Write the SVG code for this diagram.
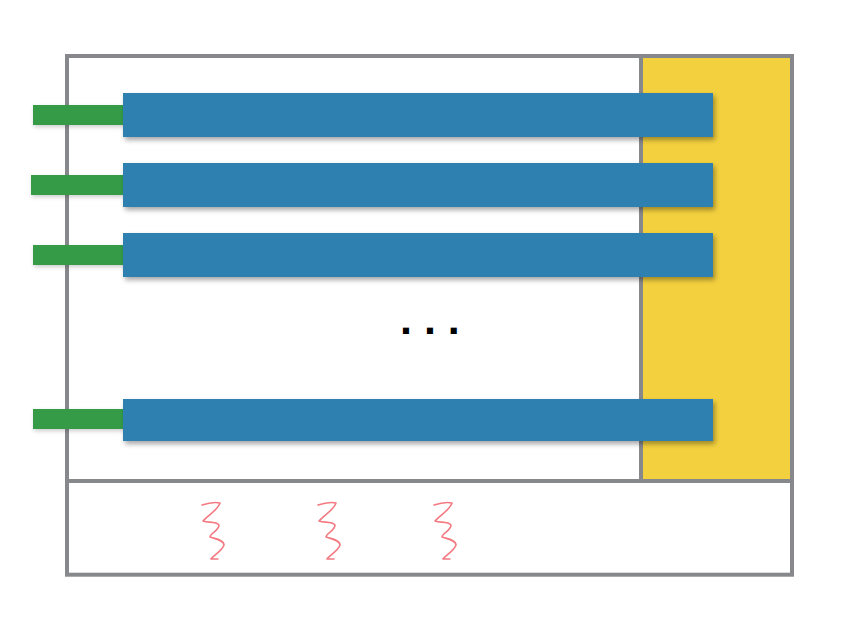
<svg xmlns="http://www.w3.org/2000/svg" width="858" height="638" viewBox="0 0 858 638">
  <defs>
    <filter id="shadow" x="-5%" y="-30%" width="110%" height="170%">
      <feDropShadow dx="2" dy="3" stdDeviation="2.5" flood-color="#000" flood-opacity="0.35"/>
    </filter>
    <filter id="shadowSmall" x="-10%" y="-40%" width="120%" height="200%">
      <feDropShadow dx="1" dy="2" stdDeviation="2" flood-color="#000" flood-opacity="0.2"/>
    </filter>
    <path id="squiggle" d="M202,505 C208,503 216,502 220,503 C218,510 208,515 203,521 C208,523 216,521 219,525 C219,531 210,533 210,537 C216,539 224,540 224,545 C222,551 214,555 211,559 L218,559"/>
  </defs>
  <style>
    .frame { fill: none; stroke: #86888c; stroke-width: 4; }
    .yellow { fill: #f3d03e; }
    .blue { fill: #2f80b0; filter: url(#shadow); }
    .green { fill: #369b47; filter: url(#shadowSmall); }
    .dots { font-family: "Liberation Sans", Arial, sans-serif; font-weight: bold; font-size: 43px; fill: #000; }
    .wave { fill: none; stroke: #f47a82; stroke-width: 1.6; stroke-linecap: round; stroke-linejoin: round; }
  </style>
  <rect width="858" height="638" fill="#ffffff"/>

  <g id="container">
    <rect class="yellow" x="641" y="56" width="151" height="425"/>
    <rect class="frame" x="67" y="56" width="725" height="518.7"/>
    <line class="frame" x1="67" y1="481" x2="792" y2="481"/>
    <line class="frame" x1="641" y1="56" x2="641" y2="481"/>
  </g>

  <g id="row1">
    <rect class="green" x="33" y="105" width="92" height="20"/>
    <rect class="blue" x="123" y="93" width="590" height="44"/>
  </g>
  <g id="row2">
    <rect class="green" x="31" y="175" width="92" height="20"/>
    <rect class="blue" x="123" y="163" width="590" height="44"/>
  </g>
  <g id="row3">
    <rect class="green" x="33" y="245" width="92" height="20"/>
    <rect class="blue" x="123" y="233" width="590" height="44"/>
  </g>
  <g id="row4">
    <rect class="green" x="33" y="409" width="92" height="20"/>
    <rect class="blue" x="123" y="399" width="590" height="42"/>
  </g>

  <g id="ellipsis">
    <text class="dots" x="400" y="334">. . .</text>
  </g>

  <g id="heat">
    <use href="#squiggle" class="wave"/>
    <use href="#squiggle" class="wave" transform="translate(116,0)"/>
    <use href="#squiggle" class="wave" transform="translate(232,0)"/>
  </g>

  <g id="connectors"></g>
</svg>
